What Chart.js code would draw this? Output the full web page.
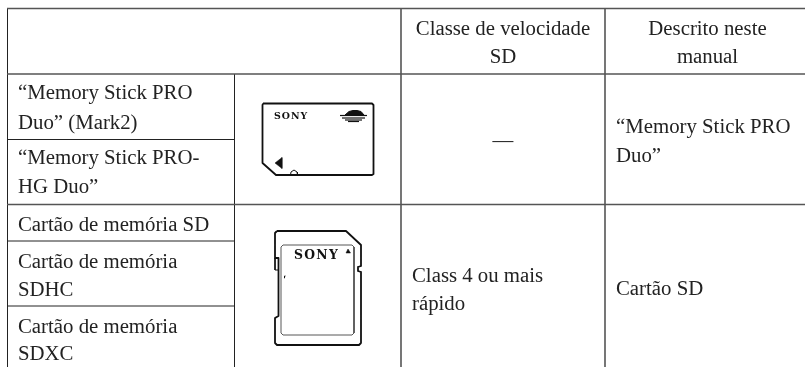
<!DOCTYPE html>
<html><head><meta charset="utf-8">
<style>html,body{margin:0;padding:0;background:#fff}canvas{display:block}</style>
<script src="https://cdn.jsdelivr.net/npm/chart.js@4"></script></head>
<body><canvas id="c" width="805" height="367"></canvas>
<script>
// Table content: [text, x, baseline y, align]
const headerCells = [
  ["Classe de velocidade", 503, 35, "center"], ["SD", 503, 63, "center"],
  ["Descrito neste", 707.5, 35, "center"], ["manual", 707.5, 63, "center"]
];
const nameCells = [
  ["“Memory Stick PRO", 18, 99, "left"], ["Duo” (Mark2)", 18, 128.5, "left"],
  ["“Memory Stick PRO-", 18, 164, "left"], ["HG Duo”", 18, 193, "left"],
  ["Cartão de memória SD", 18, 231, "left"],
  ["Cartão de memória", 18, 268, "left"], ["SDHC", 18, 296, "left"],
  ["Cartão de memória", 18, 333, "left"], ["SDXC", 18, 360, "left"]
];
const speedCells = [
  ["—", 503, 147, "center"],
  ["Class 4 ou mais", 412, 282, "left"], ["rápido", 412, 310, "left"]
];
const manualCells = [
  ["“Memory Stick PRO", 616, 133, "left"], ["Duo”", 616, 162, "left"],
  ["Cartão SD", 616, 295, "left"]
];
const cardLabels = [["SONY", 274, 119, 9.4, 1], ["SONY", 294, 258.5, 12.4, 1.3]];

// Table rules as [x1, y1, x2, y2]
const heavyRules = [
  [7, 8.5, 805, 8.5], [7, 74, 805, 74], [7, 204.5, 805, 204.5],
  [401, 8.5, 401, 367], [605, 8.5, 605, 367]
];
const thinRules = [
  [7.5, 8.5, 7.5, 367], [234.5, 74, 234.5, 367],
  [7.5, 139.5, 234.5, 139.5],
  [7.5, 241, 234.5, 241], [7.5, 306, 234.5, 306]
];

// Pictograms
const msOutline = [[263,103.5],[372,103.5],[373.5,105],[373.5,174],[372,175],[276,175],[262.5,163],[262.5,105],[263,103.5]];
const msTriangle = [[275,163],[282,157.5],[282,168.5],[275,163]];
const msNotch = [[290.5,175],[291,172],[294,170],[297,172],[297.5,175]];
const msLogoArch = [[345,115],[349,111.5],[353,110.5],[357,110.5],[361,111.5],[364,115],[345,115]];
const msLogoBars = [[[340,115.5],[367,115.5]],[[342,118],[365,118]],[[345,120],[362,120]],[[348,121.5],[359,121.5]]];
const sdOutline = [[277,231],[346,231],[361,245],[361,266],[358,267],[358,271],[361,272],[361,343],[359,345],[277,345],[275,343],[275,318],[278.5,316],[278.5,258],[275,258],[275,233],[277,231]];
const sdTab = [[275,258],[275,270],[278,270]];
const sdInner = [[283,245],[352,245],[354,247],[354,333],[352,335],[283,335],[281,333],[281,247],[283,245]];
const sdTriangle = [[348,249],[350.5,253],[346,253],[348,249]];
const sdTick = [[284,278],[284.5,276],[285.5,276]];

const pts = a => a.map(p => ({x: p[0], y: p[1]}));
const rule = (r, color, w) => ({type:"scatter", data:[{x:r[0],y:r[1]},{x:r[2],y:r[3]}], showLine:true, pointRadius:0, borderColor:color, borderWidth:w});
const shape = (a, w, fill, color) => ({type:"scatter", data:pts(a), showLine:true, pointRadius:0, tension:0, borderColor:color||"#111", borderWidth:w, borderJoinStyle:"round", backgroundColor:"#111", fill:fill?"shape":false});

const textPlugin = {
  id: "tableText",
  afterDatasetsDraw(chart) {
    const {ctx, scales:{x, y}} = chart;
    ctx.save();
    ctx.fillStyle = "#222";
    ctx.textBaseline = "alphabetic";
    ctx.font = "20.8px 'Liberation Serif'";
    [...headerCells, ...nameCells, ...speedCells, ...manualCells].forEach(c => {
      ctx.textAlign = c[3];
      ctx.fillText(c[0], x.getPixelForValue(c[1]), y.getPixelForValue(c[2]));
    });
    ctx.fillStyle = "#111";
    ctx.textAlign = "left";
    cardLabels.forEach(c => {
      ctx.font = "bold " + c[3] + "px 'DejaVu Serif'";
      ctx.letterSpacing = c[4] + "px";
      ctx.fillText(c[0], x.getPixelForValue(c[1]), y.getPixelForValue(c[2]));
    });
    ctx.restore();
  }
};

new Chart(document.getElementById("c"), {
  type: "scatter",
  data: { datasets: [
    ...heavyRules.map(r => rule(r, "#555", 1.6)),
    ...thinRules.map(r => rule(r, "#222", 1)),
    shape(msOutline, 1.8), shape(msTriangle, 0.5, true), shape(msNotch, 1),
    shape(msLogoArch, 1, true), ...msLogoBars.map(b => shape(b, 1.2)),
    shape(sdOutline, 1.8), shape(sdTab, 1), shape(sdInner, 0.9, false, "#444"),
    shape(sdTriangle, 0.5, true), shape(sdTick, 1)
  ]},
  plugins: [textPlugin],
  options: {
    responsive: false, animation: false, events: [],
    layout: { padding: 0 },
    plugins: { legend:{display:false}, tooltip:{enabled:false}, title:{display:false} },
    scales: {
      x: { type:"linear", min:0, max:805, display:false },
      y: { type:"linear", min:0, max:367, reverse:true, display:false }
    }
  }
});
</script></body></html>
